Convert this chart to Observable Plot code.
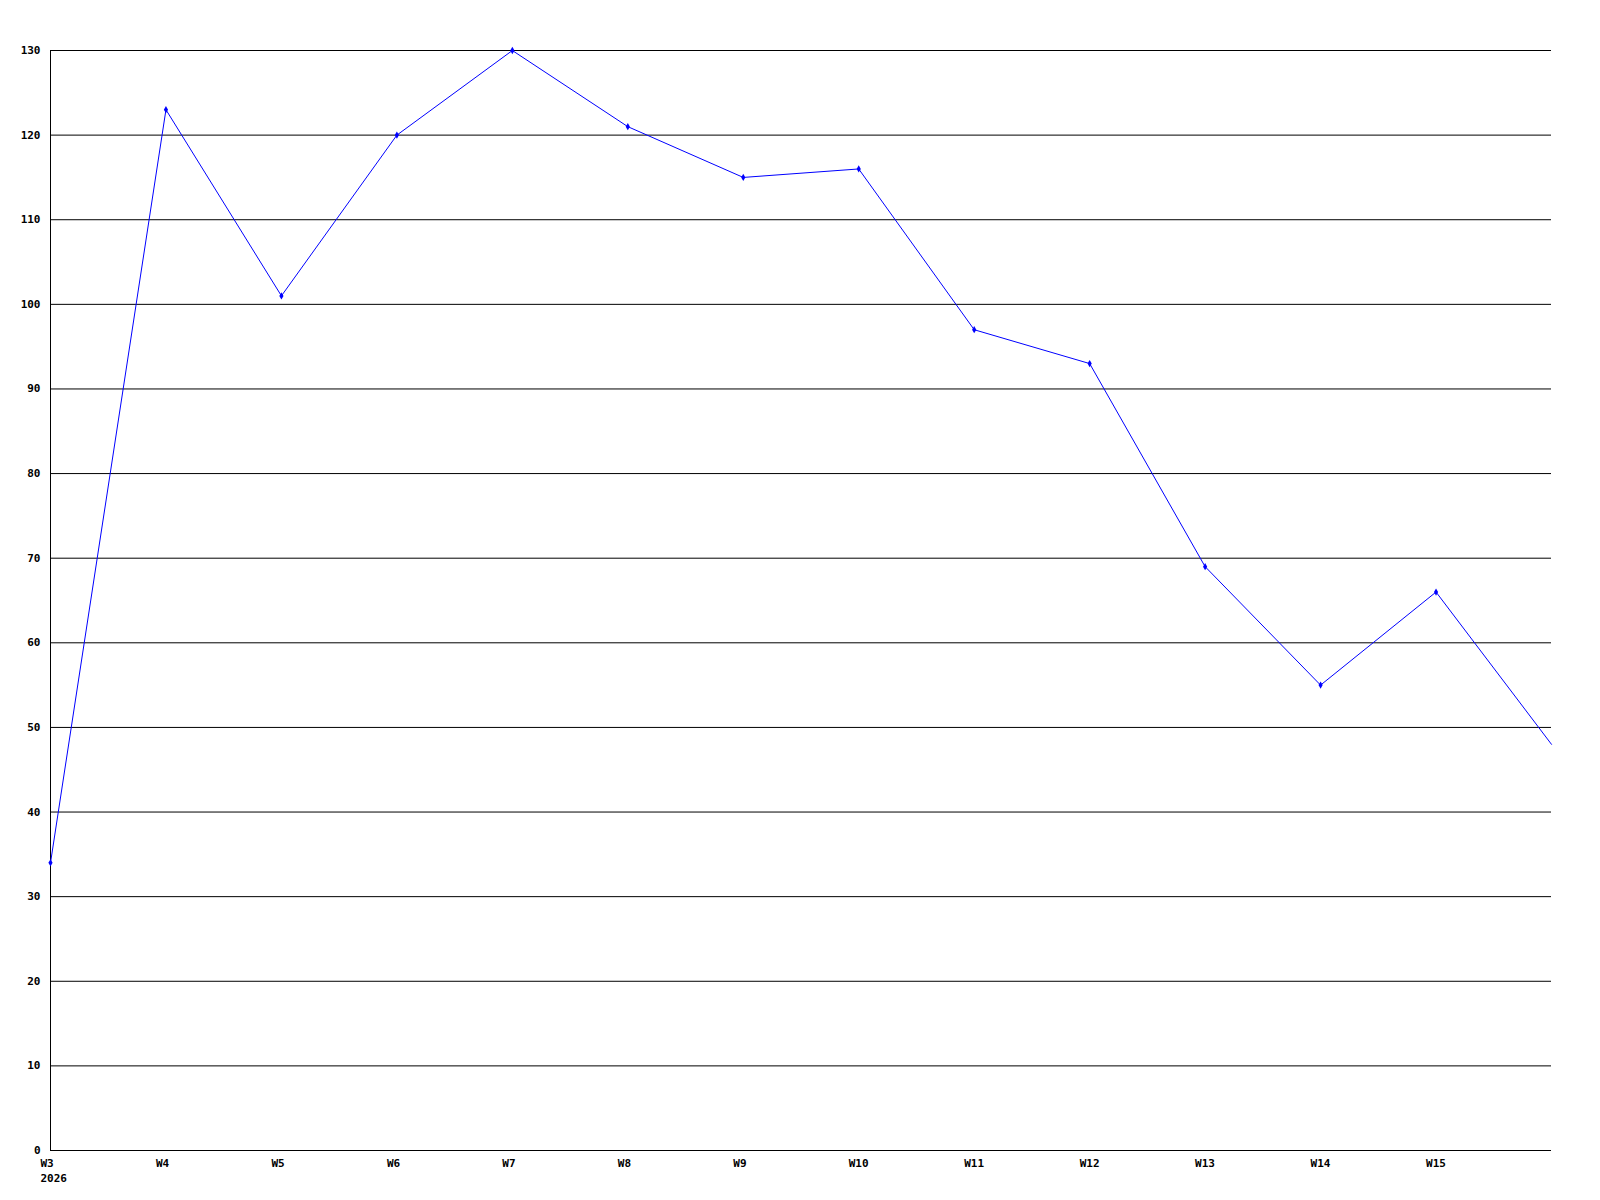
<!DOCTYPE html>
<html>
<head>
<meta charset="utf-8">
<script src="https://cdn.jsdelivr.net/npm/d3@7"></script>
<script src="https://cdn.jsdelivr.net/npm/@observablehq/plot@0.6"></script>
<style>
  html, body { margin: 0; padding: 0; background: #fff; }
</style>
</head>
<body>
<div id="chart"></div>
<script>
const weeks = [3, 4, 5, 6, 7, 8, 9, 10, 11, 12, 13, 14, 15, 16];
const values = [34, 123, 101, 120, 130, 121, 115, 116, 97, 93, 69, 55, 66, 48];
const tickWeeks = [3, 4, 5, 6, 7, 8, 9, 10, 11, 12, 13, 14, 15];
const yTicks = d3.range(0, 131, 10);
const year = "2026";

const data = weeks.map((w, i) => ({week: w, value: values[i]}));
const markerData = data.filter(d => tickWeeks.includes(d.week));

const chart = Plot.plot({
  width: 1600,
  height: 1200,
  marginLeft: 50,
  marginRight: 49,
  marginTop: 50,
  marginBottom: 50,
  style: {fontFamily: "'DejaVu Sans Mono', monospace", fontSize: "11px", fontWeight: "bold", background: "#fff", color: "#000"},
  x: {domain: [3, 16]},
  y: {domain: [0, 130]},
  marks: [
    Plot.gridY(yTicks, {stroke: "#000", strokeOpacity: 1, strokeWidth: 1}),
    Plot.ruleX([3], {stroke: "#000", strokeWidth: 1}),
    Plot.ruleY([0], {stroke: "#000", strokeWidth: 1}),
    Plot.axisY(yTicks, {tickSize: 0, tickPadding: 10, label: null, fill: "#000", fontWeight: "bold"}),
    Plot.axisX(tickWeeks, {
      tickSize: 0,
      tickPadding: 6,
      dx: -10,
      textAnchor: "start",
      label: null,
      lineHeight: 1.35,
      fill: "#000",
      tickFormat: d => d === 3 ? `W${d}\n${year}` : `W${d}`
    }),
    Plot.line(data, {x: "week", y: "value", stroke: "#0000ff", strokeWidth: 1}),
    Plot.dot(markerData, {x: "week", y: "value", symbol: "diamond", r: 2.2, fill: "#0000ff", stroke: "none"})
  ]
});
document.getElementById("chart").appendChild(chart);
</script>
</body>
</html>
